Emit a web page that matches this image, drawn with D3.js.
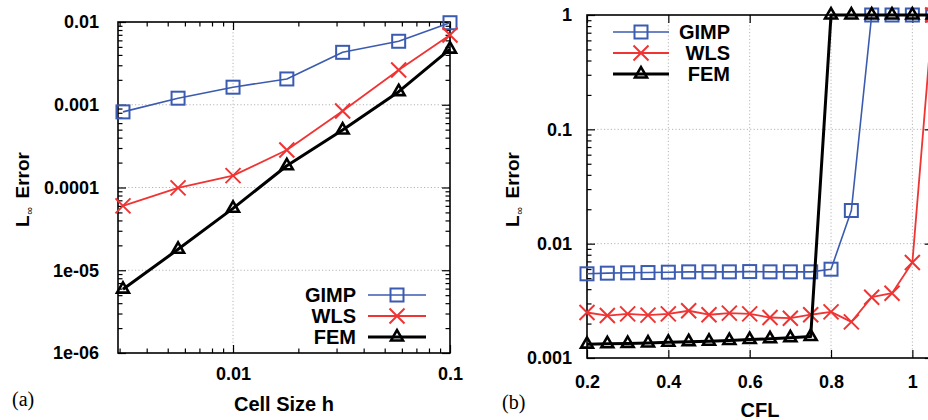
<!DOCTYPE html>
<html>
<head>
<meta charset="utf-8">
<script src="https://cdn.jsdelivr.net/npm/d3@7"></script>
<style>
  html, body { margin: 0; padding: 0; background: #fff; overflow: hidden; }
  svg { display: block; }
  text { font-family: "Liberation Sans", Arial, sans-serif; fill: #000; }
</style>
</head>
<body>
<svg id="chart" width="928" height="420"></svg>
<script>
// ---------- data ----------
const seriesNames = ["GIMP", "WLS", "FEM"];

// panel (a): error vs cell size
const cellSize = [0.00311, 0.00558, 0.01, 0.0177, 0.032, 0.058, 0.1];
const gimpA = [0.00082, 0.0012, 0.00163, 0.00205, 0.0043, 0.00585, 0.0098];
const wlsA  = [6.0e-5, 9.9e-5, 1.39e-4, 2.84e-4, 8.4e-4, 2.63e-3, 6.97e-3];
const femA  = [5.9e-6, 1.79e-5, 5.6e-5, 1.83e-4, 4.95e-4, 1.44e-3, 4.7e-3];
const xTicksA = [0.01, 0.1];
const xTickLabelsA = ["0.01", "0.1"];
const yTicksA = [1e-6, 1e-5, 1e-4, 1e-3, 1e-2];
const yTickLabelsA = ["1e-06", "1e-05", "0.0001", "0.001", "0.01"];

// panel (b): error vs CFL
const cfl = [0.2, 0.25, 0.3, 0.35, 0.4, 0.45, 0.5, 0.55, 0.6, 0.65, 0.7, 0.75, 0.8, 0.85, 0.9, 0.95, 1.0, 1.05];
const gimpB = [0.00545, 0.00552, 0.00556, 0.00559, 0.00563, 0.00567, 0.00567, 0.00567, 0.0057, 0.00567, 0.00567, 0.00567, 0.00598, 0.0195, 1, 1, 1, 1];
const wlsB  = [0.0025, 0.00235, 0.00243, 0.00237, 0.00243, 0.00259, 0.00239, 0.00247, 0.00243, 0.00226, 0.00223, 0.00239, 0.00253, 0.00207, 0.0034, 0.00369, 0.00684, 1];
const femB  = [0.00132, 0.00133, 0.00134, 0.00135, 0.00137, 0.00139, 0.0014, 0.00142, 0.00145, 0.00147, 0.0015, 0.00154, 1, 1, 1, 1, 1, 1];
const xTicksB = [0.2, 0.4, 0.6, 0.8, 1.0];
const xTickLabelsB = ["0.2", "0.4", "0.6", "0.8", "1"];
const yTicksB = [0.001, 0.01, 0.1, 1];
const yTickLabelsB = ["0.001", "0.01", "0.1", "1"];

// ---------- styles ----------
const colors = { GIMP: "#3b5bb0", WLS: "#f03434", FEM: "#000000" };
const lineW  = { GIMP: 1.6, WLS: 1.8, FEM: 3 };
const SANS = '"Liberation Sans", Arial, sans-serif';
const SERIF = '"Liberation Serif", "Times New Roman", serif';

const svg = d3.select("#chart");
svg.append("rect").attr("width", 928).attr("height", 420).attr("fill", "#fff");

function minorLog(lo, hi) {
  const out = [];
  for (let e = Math.floor(Math.log10(lo)); e <= Math.ceil(Math.log10(hi)); e++) {
    for (let m = 2; m <= 9; m++) {
      const v = m * Math.pow(10, e);
      if (v > lo && v < hi) out.push(v);
    }
  }
  return out;
}

function marker(g, type, x, y, color) {
  if (type === "GIMP") {
    g.append("rect").attr("x", x - 6.5).attr("y", y - 6.5).attr("width", 13).attr("height", 13)
      .attr("fill", "none").attr("stroke", color).attr("stroke-width", 2);
  } else if (type === "WLS") {
    const s = 7.5;
    g.append("path").attr("d", `M${x - s},${y - s}L${x + s},${y + s}M${x - s},${y + s}L${x + s},${y - s}`)
      .attr("stroke", color).attr("stroke-width", 2).attr("fill", "none");
  } else {
    const sym = d3.symbol().type(d3.symbolTriangle).size(62);
    g.append("path").attr("d", sym()).attr("transform", `translate(${x},${y})`)
      .attr("fill", "none").attr("stroke", color).attr("stroke-width", 2.6).attr("stroke-linejoin", "miter");
  }
}

function boldText(sel, size) {
  return sel.style("font-family", SANS).style("font-weight", "bold").style("font-size", size + "px").style("fill", "#000");
}

function panel(cfg) {
  const { x, y, xs, series, left, right, top, bottom } = cfg;
  const g = svg.append("g");

  // grid
  const grid = g.append("g").attr("stroke", "#b5b5b5").attr("stroke-width", 1).attr("stroke-dasharray", "1.2,2.2");
  cfg.xGrid.forEach(v => grid.append("line").attr("x1", x(v)).attr("x2", x(v)).attr("y1", top).attr("y2", bottom));
  cfg.yGrid.forEach(v => grid.append("line").attr("y1", y(v)).attr("y2", y(v)).attr("x1", left).attr("x2", right));

  // axes (inward ticks, mirrored)
  const fmtY = v => cfg.yLabels[cfg.yTicks.indexOf(v)];
  const fmtX = v => cfg.xLabels[cfg.xTicks.indexOf(v)];
  g.append("g").attr("transform", `translate(${left},0)`)
    .call(d3.axisLeft(y).tickValues(cfg.yTicks).tickFormat(fmtY).tickSize(-8).tickPadding(cfg.yPad));
  g.append("g").attr("transform", `translate(${left},0)`)
    .call(d3.axisLeft(y).tickValues(cfg.yMinor).tickFormat("").tickSize(-4.5));
  g.append("g").attr("transform", `translate(${right},0)`)
    .call(d3.axisRight(y).tickValues(cfg.yTicks).tickFormat("").tickSize(-8));
  g.append("g").attr("transform", `translate(${right},0)`)
    .call(d3.axisRight(y).tickValues(cfg.yMinor).tickFormat("").tickSize(-4.5));
  g.append("g").attr("transform", `translate(0,${bottom})`)
    .call(d3.axisBottom(x).tickValues(cfg.xTicks).tickFormat(fmtX).tickSize(-8).tickPadding(cfg.xPad));
  g.append("g").attr("transform", `translate(0,${bottom})`)
    .call(d3.axisBottom(x).tickValues(cfg.xMinor).tickFormat("").tickSize(-4.5));
  g.append("g").attr("transform", `translate(0,${top})`)
    .call(d3.axisTop(x).tickValues(cfg.xTicks).tickFormat("").tickSize(-8));
  g.append("g").attr("transform", `translate(0,${top})`)
    .call(d3.axisTop(x).tickValues(cfg.xMinor).tickFormat("").tickSize(-4.5));
  g.selectAll(".domain").remove();
  g.selectAll(".tick line").attr("stroke", "#000").attr("stroke-width", 1.2);
  boldText(g.selectAll(".tick text"), 18);

  // border
  g.append("rect").attr("x", left).attr("y", top).attr("width", right - left).attr("height", bottom - top)
    .attr("fill", "none").attr("stroke", "#000").attr("stroke-width", 1.6);

  // series
  series.forEach(s => {
    const pts = xs.map((xv, i) => [x(xv), y(s.values[i])]);
    g.append("path").attr("d", d3.line()(pts)).attr("fill", "none")
      .attr("stroke", colors[s.name]).attr("stroke-width", lineW[s.name]).attr("stroke-linejoin", "round");
    pts.forEach(p => marker(g, s.name, p[0], p[1], colors[s.name]));
  });

  // legend
  seriesNames.forEach((n, i) => {
    const ly = cfg.legY + i * 21;
    boldText(g.append("text").attr("x", cfg.legTextX).attr("y", ly).attr("dy", "0.35em")
      .attr("text-anchor", "end"), 20).text(n);
    g.append("line").attr("x1", cfg.legLine[0]).attr("x2", cfg.legLine[1]).attr("y1", ly).attr("y2", ly)
      .attr("stroke", colors[n]).attr("stroke-width", lineW[n]);
    marker(g, n, (cfg.legLine[0] + cfg.legLine[1]) / 2, ly, colors[n]);
  });

  // x title
  boldText(g.append("text").attr("x", cfg.xTitleCx).attr("y", cfg.xTitleY)
    .attr("text-anchor", "middle"), 20).text(cfg.xTitle);

  // y title: L∞ Error
  const yt = boldText(g.append("text").attr("transform", `translate(${cfg.yTitleX},227) rotate(-90)`), 19);
  yt.append("tspan").text("L");
  yt.append("tspan").style("font-size", "11px").style("font-weight", "normal")
    .attr("dx", 1).attr("dy", 4).text("∞");
  yt.append("tspan").attr("dx", 8).attr("dy", -4).text("Error");

  // panel tag
  g.append("text").attr("x", cfg.tagX).attr("y", cfg.tagY)
    .style("font-family", SERIF).style("font-weight", "normal").style("font-size", "20px").style("fill", "#000")
    .text(cfg.tag);
}

// panel (a)
{
  const left = 118, right = 450, top = 22, bottom = 353;
  const x = d3.scaleLog().domain([0.00295, 0.1]).range([left, right]);
  const y = d3.scaleLog().domain([1e-6, 0.01]).range([bottom, top]);
  panel({
    x, y, xs: cellSize, left, right, top, bottom,
    series: [{ name: "GIMP", values: gimpA }, { name: "WLS", values: wlsA }, { name: "FEM", values: femA }],
    xTicks: xTicksA, xLabels: xTickLabelsA, xMinor: minorLog(0.00295, 0.1),
    yTicks: yTicksA, yLabels: yTickLabelsA, yMinor: minorLog(1e-6, 0.01),
    xGrid: [0.01], yGrid: [1e-5, 1e-4, 1e-3],
    yPad: 19, xPad: 14,
    legY: 295, legTextX: 356, legLine: [368, 426],
    xTitle: "Cell Size h", xTitleCx: 284, xTitleY: 411, yTitleX: 28.5,
    tag: "(a)", tagX: 12, tagY: 406
  });
}

// panel (b)
{
  const left = 587, right = 932.7, top = 15, bottom = 358;
  const x = d3.scaleLinear().domain([0.2, 1.05]).range([left, right]);
  const y = d3.scaleLog().domain([0.001, 1]).range([bottom, top]);
  panel({
    x, y, xs: cfl, left, right, top, bottom,
    series: [{ name: "GIMP", values: gimpB }, { name: "WLS", values: wlsB }, { name: "FEM", values: femB }],
    xTicks: xTicksB, xLabels: xTickLabelsB, xMinor: [],
    yTicks: yTicksB, yLabels: yTickLabelsB, yMinor: minorLog(0.001, 1),
    xGrid: [0.4, 0.6, 0.8, 1.0], yGrid: [0.01, 0.1],
    yPad: 15, xPad: 17,
    legY: 32, legTextX: 730, legLine: [613, 669],
    xTitle: "CFL", xTitleCx: 760, xTitleY: 417, yTitleX: 519,
    tag: "(b)", tagX: 502, tagY: 409
  });
}
</script>
</body>
</html>
